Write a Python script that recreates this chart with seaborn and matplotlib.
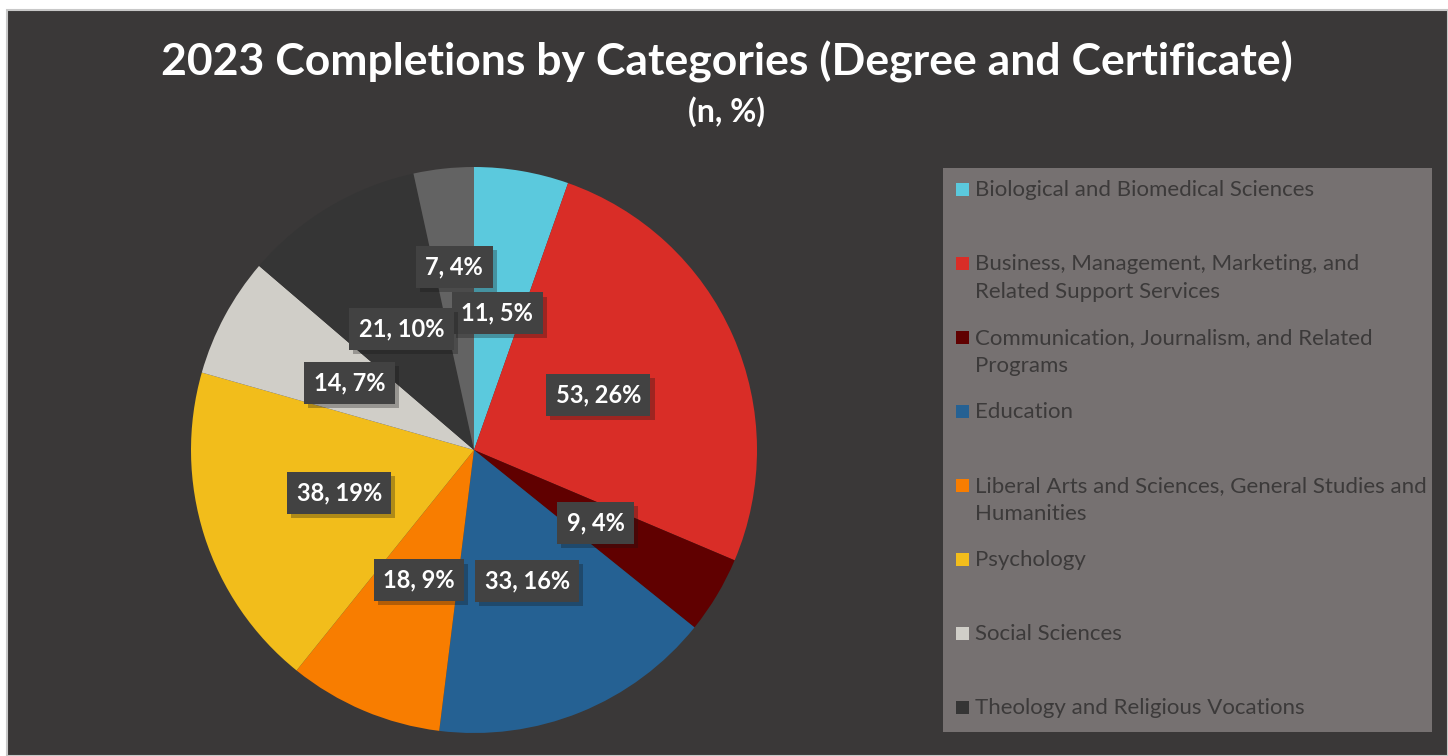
import numpy as np
import matplotlib
matplotlib.use("Agg")
import matplotlib.pyplot as plt
import matplotlib.patheffects as pe
from matplotlib.patches import Rectangle
import seaborn as sns

# data
categories = [
    "Biological and Biomedical Sciences",
    "Business, Management, Marketing, and\nRelated Support Services",
    "Communication, Journalism, and Related\nPrograms",
    "Education",
    "Liberal Arts and Sciences, General Studies and\nHumanities",
    "Psychology",
    "Social Sciences",
    "Theology and Religious Vocations",
]
counts = [11, 53, 9, 33, 18, 38, 14, 21, 7]   # last slice has no legend entry
pcts = [5, 26, 4, 16, 9, 19, 7, 10, 4]

colors = sns.color_palette(["#5BC9DD", "#D92D27", "#600000", "#256193", "#F87D00",
                            "#F2BD1B", "#D0CEC8", "#353535", "#636363"])
label_dist = [0.49, 0.48, 0.5, 0.5, 0.5, 0.5, 0.5, 0.5, 0.65]

sns.set_style("white")
plt.rcParams['font.family'] = ['Lato', 'DejaVu Sans']

W, H = 1448, 756
fig = plt.figure(figsize=(W / 100, H / 100), dpi=100, facecolor="white")

# background panel in pixel coords
bg = fig.add_axes([0, 0, 1, 1])
bg.set_xlim(0, W)
bg.set_ylim(H, 0)
bg.axis("off")
bg.add_patch(Rectangle((7, 10), W - 7, H - 10, facecolor="#3A3838", edgecolor="#C8C8C8", lw=1.5))

bg.text(727, 62, "2023 Completions by Categories (Degree and Certificate)", color="white",
        fontsize=32, fontweight="bold", ha="center", va="center")
bg.text(727, 112, "(n, %)", color="white", fontsize=23, fontweight="bold", ha="center", va="center")

# pie
ax = fig.add_axes([(474 - 283) / W, (H - 733) / H, 566 / W, 566 / H])
wedges, _ = ax.pie(counts, colors=colors, startangle=90, counterclock=False, radius=1,
                   wedgeprops=dict(linewidth=0))
ax.set_xlim(-1, 1)
ax.set_ylim(-1, 1)
ax.set_aspect("equal")

for w, n, p, d in zip(wedges, counts, pcts, label_dist):
    mid = np.deg2rad((w.theta1 + w.theta2) / 2)
    t = ax.text(d * np.cos(mid), d * np.sin(mid), f"{n}, {p}%", color="white", fontsize=17,
                fontweight="bold", ha="center", va="center",
                bbox=dict(boxstyle="square,pad=0.4", facecolor="#424242", edgecolor="none"))
    t.get_bbox_patch().set_path_effects([pe.withSimplePatchShadow(offset=(3, -3), alpha=0.3), pe.Normal()])

# legend box drawn by hand so markers line up with the first line of each label
bg.add_patch(Rectangle((943, 168), 489, 564, facecolor="#767171", edgecolor="none"))
for i, (lab, c) in enumerate(zip(categories, colors)):
    y = 190 + 74 * i
    bg.add_patch(Rectangle((956, y - 7), 13, 13, facecolor=c, edgecolor="none"))
    bg.text(975, y - 10, lab, color="#3C3A3A", fontsize=16, ha="left", va="top", linespacing=1.5)

fig.savefig("out.png", dpi=100, facecolor=fig.get_facecolor())
